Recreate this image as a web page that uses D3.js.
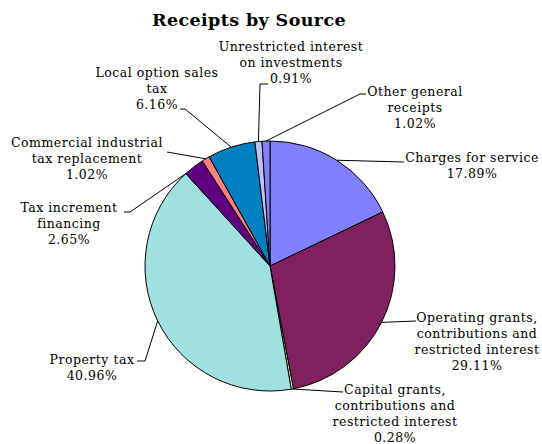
<!DOCTYPE html>
<html>
<head>
<meta charset="utf-8">
<script src="https://cdn.jsdelivr.net/npm/d3@7"></script>
<style>
  body { margin: 0; background: #fff; }
  text { font-family: "DejaVu Serif", serif; fill: #000; }
</style>
</head>
<body>
<div id="chart"></div>
<script>
// data, clockwise from 12 o'clock
const categories = [
  "Charges for service",
  "Operating grants, contributions and restricted interest",
  "Capital grants, contributions and restricted interest",
  "Property tax",
  "Tax increment financing",
  "Commercial industrial tax replacement",
  "Local option sales tax",
  "Unrestricted interest on investments",
  "Other general receipts"
];
const shares = [17.89, 29.11, 0.28, 40.96, 2.65, 1.02, 6.16, 0.91, 1.02];
const labelLines = [
  ["Charges for service"],
  ["Operating grants,", "contributions and", "restricted interest"],
  ["Capital grants,", "contributions and", "restricted interest"],
  ["Property tax"],
  ["Tax increment", "financing"],
  ["Commercial industrial", "tax replacement"],
  ["Local option  sales", "tax"],
  ["Unrestricted interest", "on investments"],
  ["Other general", "receipts"]
];
const colors = ["#8080ff", "#802060", "#ffffc0", "#a0e0e0", "#600080",
                "#ff8080", "#0080c0", "#c0c0ff", "#8080ff"];

// label placement: text centre x, first baseline y, leader knee + end, where on the slice the leader attaches
const layout = [
  {x: 472, y: 162, pts: [[404, 162]], at: 0.5},
  {x: 477, y: 322, pts: [[416, 321]], at: 0.5},
  {x: 395, y: 394, pts: [[343, 392]], at: 0.5},
  {x: 92,  y: 364, pts: [[145, 361], [137, 361]], at: 0.5},
  {x: 69,  y: 212, pts: [[130, 212], [124, 212]], at: 0.0},
  {x: 87,  y: 147, pts: [[167, 152]], at: 0.5},
  {x: 157, y: 77,  pts: [[185, 109], [180, 109]], at: 0.5},
  {x: 291, y: 51,  pts: [[260, 84], [268, 84]], at: 0.5},
  {x: 415, y: 96,  pts: [[360, 94], [366, 94]], at: 0.5}
];

const width = 542, height = 444;
const cx = 270, cy = 266, radius = 125;
const lineH = 16;

const svg = d3.select("#chart").append("svg")
  .attr("width", width).attr("height", height);

svg.append("text")
  .attr("x", 249).attr("y", 26)
  .attr("text-anchor", "middle")
  .style("font-size", "17.5px").style("font-weight", "bold")
  .style("letter-spacing", "0.4px")
  .text("Receipts by Source");

const pie = d3.pie().sort(null).value(d => d)(shares);
const arc = d3.arc().innerRadius(0).outerRadius(radius);

const g = svg.append("g").attr("transform", `translate(${cx},${cy})`);

g.selectAll("path.slice")
  .data(pie)
  .join("path")
  .attr("class", "slice")
  .attr("d", arc)
  .attr("fill", (d, i) => colors[i])
  .attr("stroke", "#000")
  .attr("stroke-width", 1);

// leader lines
const line = d3.line();
pie.forEach((d, i) => {
  const L = layout[i];
  const a = d.startAngle + (d.endAngle - d.startAngle) * L.at;
  const start = [cx + radius * Math.sin(a), cy - radius * Math.cos(a)];
  svg.append("path")
    .attr("d", line([start, ...L.pts]))
    .attr("fill", "none")
    .attr("stroke", "#000")
    .attr("stroke-width", 1);
});

// labels
pie.forEach((d, i) => {
  const L = layout[i];
  const lines = labelLines[i].concat([shares[i].toFixed(2) + "%"]);
  const t = svg.append("text")
    .attr("text-anchor", "middle")
    .style("font-size", "12.5px")
    .style("letter-spacing", "0.5px");
  lines.forEach((s, k) => {
    t.append("tspan")
      .attr("x", L.x)
      .attr("y", L.y + k * lineH)
      .text(s);
  });
});
</script>
</body>
</html>
